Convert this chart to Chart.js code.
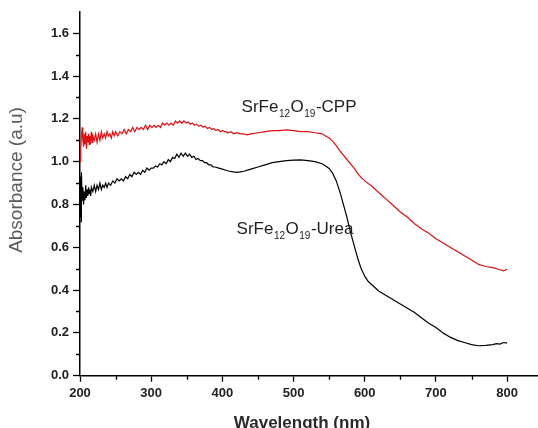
<!DOCTYPE html>
<html>
<head>
<meta charset="utf-8">
<script src="https://cdn.jsdelivr.net/npm/chart.js@4/dist/chart.umd.min.js"></script>
<style>
  html, body { margin: 0; padding: 0; background: #ffffff; }
  #wrap { width: 538px; height: 428px; position: relative; }
</style>
</head>
<body>
<div id="wrap"><canvas id="c" width="538" height="428"></canvas></div>
<script>
// ---- data ----
const xTickLabels = [200, 300, 400, 500, 600, 700, 800];
const yTickLabels = [0.0, 0.2, 0.4, 0.6, 0.8, 1.0, 1.2, 1.4, 1.6];

const cppWavelength = [200,201,202,203,204,205,206,207,208,209,210,211,212,213,214,215,216,217,218,220,222,224,226,228,230,232,234,236,238,240,242,244,246,248,250,253,256,259,262,265,268,271,274,277,280,283,286,289,292,295,298,301,304,307,310,313,316,319,322,325,328,331,334,337,340,343,346,349,352,355,358,361,364,367,370,373,376,379,382,385,388,391,394,397,400,404,408,412,416,420,425,430,435,440,450,460,470,480,490,500,510,520,530,540,545,550,555,560,565,570,575,580,585,590,595,600,610,620,630,640,650,660,670,680,690,700,710,720,730,740,750,760,770,780,790,795,800];
const cppAbsorbance = [1.00,1.06,1.12,1.16,1.10,1.07,1.13,1.08,1.14,1.06,1.12,1.09,1.13,1.08,1.12,1.10,1.14,1.09,1.12,1.10,1.13,1.09,1.13,1.10,1.14,1.11,1.13,1.11,1.14,1.12,1.13,1.11,1.14,1.12,1.14,1.12,1.14,1.13,1.15,1.13,1.15,1.14,1.16,1.14,1.16,1.15,1.16,1.15,1.17,1.15,1.17,1.16,1.17,1.16,1.17,1.16,1.18,1.17,1.18,1.17,1.18,1.17,1.19,1.18,1.19,1.18,1.19,1.18,1.185,1.175,1.18,1.17,1.175,1.165,1.17,1.16,1.165,1.155,1.16,1.15,1.155,1.145,1.15,1.14,1.145,1.14,1.135,1.14,1.13,1.135,1.13,1.13,1.125,1.13,1.135,1.14,1.145,1.145,1.148,1.145,1.14,1.14,1.135,1.13,1.12,1.11,1.095,1.075,1.05,1.03,1.01,0.99,0.97,0.945,0.925,0.91,0.885,0.855,0.825,0.795,0.765,0.74,0.71,0.685,0.665,0.64,0.62,0.60,0.58,0.56,0.54,0.52,0.51,0.505,0.495,0.49,0.497];

const ureaWavelength = [200,200.5,201,201.5,202,203,204,205,206,207,208,209,210,211,212,213,214,215,216,218,220,222,224,226,228,230,232,234,236,238,240,243,246,249,252,255,258,261,264,267,270,273,276,279,282,285,288,291,294,297,300,303,306,309,312,315,318,321,324,327,330,333,336,339,342,345,348,351,354,357,360,363,366,369,372,375,378,381,384,387,390,395,400,405,410,415,420,425,430,440,450,460,470,480,490,500,510,520,530,540,545,550,555,560,565,570,575,580,585,590,595,600,605,610,620,630,640,650,660,670,680,690,700,710,720,730,740,750,760,770,780,785,790,795,800];
const ureaAbsorbance = [0.85,0.74,0.93,0.72,0.95,0.82,0.88,0.80,0.86,0.82,0.89,0.83,0.87,0.84,0.88,0.85,0.87,0.84,0.88,0.86,0.89,0.86,0.89,0.87,0.90,0.87,0.89,0.88,0.90,0.88,0.90,0.89,0.91,0.90,0.92,0.91,0.92,0.91,0.93,0.92,0.94,0.93,0.95,0.94,0.95,0.94,0.96,0.95,0.97,0.96,0.97,0.97,0.98,0.975,0.99,0.985,1.00,0.99,1.01,1.00,1.02,1.015,1.035,1.02,1.04,1.025,1.04,1.025,1.035,1.02,1.025,1.01,1.015,1.005,1.005,0.995,0.995,0.985,0.985,0.975,0.975,0.97,0.965,0.96,0.955,0.952,0.95,0.952,0.955,0.965,0.975,0.985,0.995,1.00,1.005,1.007,1.008,1.005,1.00,0.99,0.98,0.968,0.945,0.91,0.86,0.80,0.74,0.67,0.61,0.55,0.50,0.465,0.44,0.425,0.395,0.375,0.355,0.335,0.315,0.295,0.27,0.245,0.225,0.20,0.18,0.165,0.155,0.145,0.14,0.142,0.145,0.15,0.148,0.155,0.152];

const seriesNames = ['SrFe12O19-CPP', 'SrFe12O19-Urea'];

// ---- build datasets ----
const toPoints = (xs, ys) => xs.map((x, i) => ({ x: x, y: ys[i] }));

const FONT = '"Liberation Sans", Arial, sans-serif';

// Annotation labels with subscripts, anchored in data coordinates
const annotations = [
  { parts: ['SrFe', '12', 'O', '19', '-CPP'], x: 427, y: 1.233 },
  { parts: ['SrFe', '12', 'O', '19', '-Urea'], x: 420, y: 0.664 }
];

const decorPlugin = {
  id: 'decor',
  afterDraw(chart) {
    const ctx = chart.ctx;
    const xs = chart.scales.x, ys = chart.scales.y;
    const area = chart.chartArea;
    ctx.save();
    // minor ticks
    ctx.strokeStyle = '#000';
    ctx.lineWidth = 1.3;
    ctx.beginPath();
    for (let v = 250; v <= 800; v += 100) {
      const px = Math.round(xs.getPixelForValue(v)) + 0.5;
      ctx.moveTo(px, area.bottom); ctx.lineTo(px, area.bottom + 4);
    }
    for (let k = 1; k <= 15; k += 2) {
      const py = Math.round(ys.getPixelForValue(k / 10)) + 0.5;
      ctx.moveTo(area.left, py); ctx.lineTo(area.left - 4, py);
    }
    ctx.stroke();

    // series annotation labels
    ctx.fillStyle = '#1e1e1e';
    ctx.textBaseline = 'alphabetic';
    ctx.textAlign = 'left';
    annotations.forEach(a => {
      let px = xs.getPixelForValue(a.x);
      const base = ys.getPixelForValue(a.y);
      a.parts.forEach((p, i) => {
        const sub = (i === 1 || i === 3);
        ctx.font = (sub ? '10px ' : '17px ') + FONT;
        ctx.fillText(p, px, sub ? base + 5.5 : base);
        px += ctx.measureText(p).width + (sub ? 0.5 : 0.5);
      });
    });

    // axis titles
    ctx.fillStyle = '#5a5a5a';
    ctx.font = '19px ' + FONT;
    ctx.textAlign = 'center';
    ctx.textBaseline = 'middle';
    ctx.translate(17, 180);
    ctx.rotate(-Math.PI / 2);
    ctx.fillText('Absorbance (a.u)', 0, 0);
    ctx.setTransform(1, 0, 0, 1, 0, 0);
    ctx.fillStyle = '#2a2a2a';
    ctx.font = 'bold 17px ' + FONT;
    ctx.textBaseline = 'alphabetic';
    ctx.fillText('Wavelength (nm)', 302, 428);
    ctx.restore();
  }
};

new Chart(document.getElementById('c'), {
  type: 'line',
  data: {
    datasets: [
      {
        label: seriesNames[0],
        data: toPoints(cppWavelength, cppAbsorbance),
        borderColor: '#e01010',
        borderWidth: 1.2,
        pointRadius: 0,
        tension: 0,
        fill: false
      },
      {
        label: seriesNames[1],
        data: toPoints(ureaWavelength, ureaAbsorbance),
        borderColor: '#000000',
        borderWidth: 1.2,
        pointRadius: 0,
        tension: 0,
        fill: false
      }
    ]
  },
  options: {
    responsive: false,
    animation: false,
    devicePixelRatio: 1,
    layout: { padding: { top: 3, right: 1, left: 0, bottom: 0 } },
    plugins: { legend: { display: false }, tooltip: { enabled: false } },
    scales: {
      x: {
        type: 'linear',
        min: 200,
        max: 842,
        afterFit: s => { s.height = 52.3; },
        afterBuildTicks: s => { s.ticks = xTickLabels.map(v => ({ value: v })); },
        ticks: {
          color: '#222',
          font: { family: FONT, size: 13, weight: 'bold' },
          padding: 4,
          maxRotation: 0,
          callback: v => String(v)
        },
        grid: { drawOnChartArea: false, tickLength: 6, tickColor: '#000', tickWidth: 1.3 },
        border: { color: '#000', width: 1.5 }
      },
      y: {
        type: 'linear',
        min: 0,
        max: 1.7,
        afterFit: s => { s.width = 80; },
        afterBuildTicks: s => { s.ticks = yTickLabels.map(v => ({ value: v })); },
        ticks: {
          color: '#222',
          font: { family: FONT, size: 13, weight: 'bold' },
          padding: 4,
          callback: v => Number(v).toFixed(1)
        },
        grid: { drawOnChartArea: false, tickLength: 7, tickColor: '#000', tickWidth: 1.3 },
        border: { color: '#000', width: 1.5 }
      }
    }
  },
  plugins: [decorPlugin]
});
</script>
</body>
</html>
